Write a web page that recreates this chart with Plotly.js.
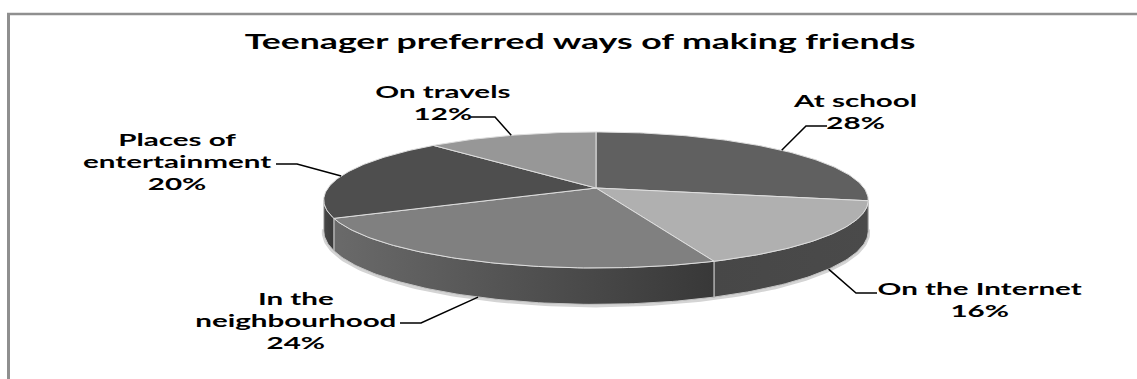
<!DOCTYPE html>
<html><head><meta charset="utf-8">
<script src="https://cdn.plot.ly/plotly-3.0.1.min.js"></script>
<style>
html,body{margin:0;padding:0;background:#fff;overflow:hidden;}
#chart{width:1137px;height:379px;}
.js-plotly-plot text.annotation-text{transform-box:fill-box;transform-origin:center;transform:scaleX(1.74);}
.js-plotly-plot text.gtitle{transform-box:fill-box;transform-origin:center;transform:scaleX(1.78);}
</style></head><body><div id="chart"></div>
<script>
// ---- data ----
const chartTitle = "Teenager preferred ways of making friends";
const categories = ["At school", "On the Internet", "In the neighbourhood", "Places of entertainment", "On travels"];
const labelLines = ["At school", "On the Internet", "In the<br>neighbourhood", "Places of<br>entertainment", "On travels"];
const percents = [28, 16, 24, 20, 12];

// ---- styles ----
const topColors = ["#606060", "#b0b0b0", "#808080", "#4e4e4e", "#979797"];
const sideColors = [["#555555", "#4a4a4a"], ["#474747", "#4a4a4a"], ["#6a6a6a", "#383838"], ["#474747", "#3a3a3a"], ["#888888", "#888888"]];
// label placement (pixel space): text centre, leader start, leader elbow
const labelPos = [[855, 111], [980, 299], [296, 320], [177, 161], [443, 102]];
const leaderStart = [[827, 126], [877, 293], [400, 323], [276, 164], [471, 117]];
const leaderElbow = [[806, 126], [856, 293], [421, 323], [297, 164], [495, 117]];

// ---- 3D pie geometry (perspective ellipse) ----
const W = 1137, Hh = 379;
const CX = 596, CY = 188, RX = 268, RY = 65.9, P = 0.176, DEPTH = 30;
function rim(thetaDeg, bottom) {
  const t = thetaDeg * Math.PI / 180, c = Math.cos(t), s = Math.sin(t);
  const w = 1 / (1 + P * c);
  return [CX + RX * s * w, CY - RY * c * w + (bottom ? DEPTH * w : 0)];
}
const visA = Math.acos(-P) * 180 / Math.PI;   // right-most visible side point
const visB = 360 - visA;                       // left-most

const total = percents.reduce((a, b) => a + b, 0);
const starts = [], ends = [];
let acc = 0;
percents.forEach(v => { starts.push(acc / total * 360); acc += v; ends.push(acc / total * 360); });

function arc(a, b, bottom) {
  const pts = [];
  const n = Math.max(2, Math.ceil((b - a) / 1));
  for (let i = 0; i <= n; i++) pts.push(rim(a + (b - a) * i / n, bottom));
  return pts;
}

const traces = [];
// soft halo under the base
{
  const pts = arc(visA - 2, visB + 2, true);
  traces.push({type: 'scatter', mode: 'lines', x: pts.map(p => p[0]), y: pts.map(p => p[1] + 1),
    line: {color: '#d4d4d4', width: 4}, hoverinfo: 'skip', showlegend: false});
}
// side walls
categories.forEach((cat, i) => {
  const a = Math.max(starts[i], visA), b = Math.min(ends[i], visB);
  if (b <= a) return;
  const topPts = arc(a, b, false), botPts = arc(a, b, true).reverse();
  const pts = topPts.concat(botPts); pts.push(topPts[0]);
  traces.push({type: 'scatter', mode: 'lines', x: pts.map(p => p[0]), y: pts.map(p => p[1]),
    fill: 'toself', fillcolor: sideColors[i][0],
    fillgradient: {type: 'horizontal', colorscale: [[0, sideColors[i][0]], [1, sideColors[i][1]]]},
    line: {color: '#c4c4c4', width: 1}, name: cat, hoverinfo: 'skip', showlegend: false});
});
// top faces
categories.forEach((cat, i) => {
  const pts = [[CX, CY]].concat(arc(starts[i], ends[i], false)); pts.push([CX, CY]);
  traces.push({type: 'scatter', mode: 'lines', x: pts.map(p => p[0]), y: pts.map(p => p[1]),
    fill: 'toself', fillcolor: topColors[i], line: {color: '#dedede', width: 1},
    name: cat, hoverinfo: 'skip', showlegend: false});
});

// labels and leader lines
const annotations = [], shapes = [];
categories.forEach((cat, i) => {
  annotations.push({x: labelPos[i][0], y: labelPos[i][1], xref: 'x', yref: 'y',
    text: labelLines[i] + '<br>' + percents[i] + '%', showarrow: false,
    xanchor: 'center', yanchor: 'middle', align: 'center',
    font: {family: 'Lato', size: 17, color: '#000000', weight: 'bold'}});
  const mid = (starts[i] + ends[i]) / 2;
  const front = mid > visA && mid < visB;
  const end = rim(mid, front);
  shapes.push({type: 'path', xref: 'x', yref: 'y',
    path: `M${leaderStart[i][0]},${leaderStart[i][1]} L${leaderElbow[i][0]},${leaderElbow[i][1]} L${end[0]},${end[1]}`,
    line: {color: '#000000', width: 1.5}});
});
// outer frame
shapes.push({type: 'line', xref: 'x', yref: 'y', x0: 8.5, x1: 8.5, y0: 13, y1: 379, line: {color: '#8f8f8f', width: 3}});
shapes.push({type: 'line', xref: 'x', yref: 'y', x0: 7, x1: 1137, y0: 14, y1: 14, line: {color: '#8f8f8f', width: 2.5}});

const layout = {
  width: W, height: Hh, margin: {l: 0, r: 0, t: 0, b: 0},
  paper_bgcolor: '#ffffff', plot_bgcolor: '#ffffff',
  title: {text: chartTitle, x: 580 / W, xanchor: 'center', y: 1 - 42 / Hh, yanchor: 'middle',
    font: {family: 'Lato', size: 20, color: '#000000', weight: 'bold'}},
  xaxis: {range: [0, W], visible: false, fixedrange: true},
  yaxis: {range: [Hh, 0], visible: false, fixedrange: true},
  showlegend: false, annotations: annotations, shapes: shapes, hovermode: false
};
Plotly.newPlot('chart', traces, layout, {displayModeBar: false, staticPlot: true});
</script></body></html>
